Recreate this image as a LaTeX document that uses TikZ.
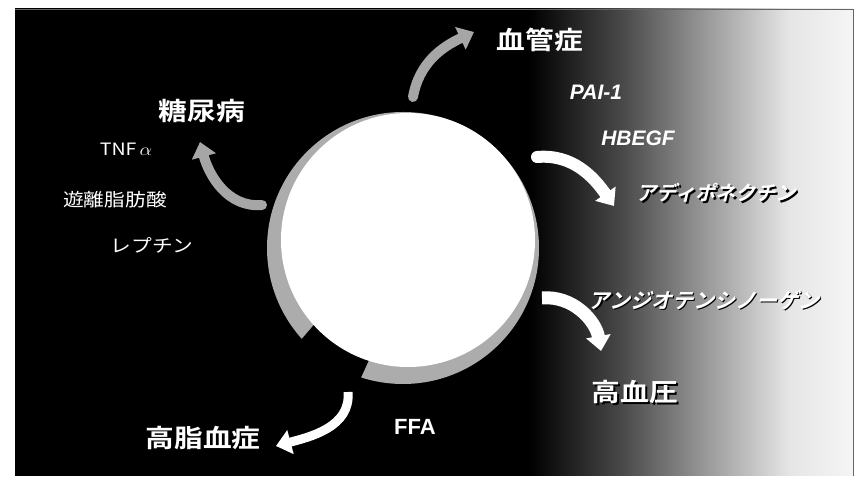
\documentclass[tikz,border=0pt]{standalone}
\usepackage{fontspec}
\setmainfont{Liberation Sans}
\newfontfamily\jp{Noto Sans CJK JP}[BoldFont={Noto Sans CJK JP Bold}]
\newfontfamily\jpsl{Noto Sans CJK JP Bold}[FakeSlant=0.25]
\usetikzlibrary{arrows.meta,calc}
% the path is fitted into 25bp..75bp of the shading
\pgfdeclarehorizontalshading{fadebg}{100bp}{color(0bp)=(black); color(55.7bp)=(black);
  color(61.1bp)=(black!72); color(65.9bp)=(black!42); color(71.2bp)=(black!10); color(75bp)=(black!4); color(100bp)=(black!4)}
\newcommand\shadowed[4]{%
  \node[#1,text=black] (#2-sh) at ($(#3)+(1.8,-1.8)$) {#4};
  \node[#1] (#2) at (#3) {#4};}

\begin{document}
\begin{tikzpicture}[x=1pt,y=1pt,
    disease/.style={text=white,font=\jp\bfseries\fontsize{25}{25}\selectfont,xscale=1.15,inner sep=0pt},
    factor/.style={text=white,font=\bfseries\itshape\fontsize{21}{21}\selectfont,inner sep=0pt},
    kana/.style={text=white,font=\jpsl\fontsize{20}{20}\selectfont,inner sep=0pt},
    fatarrow/.style={line width=10pt,-{Triangle[width=24pt,length=15pt]}}]
    \useasboundingbox (0,0) rectangle (859,478);
    \fill[white] (0,0) rectangle (859,478);
    \shade[shading=fadebg] (15,2) rectangle (853,469);
    \draw[black!60,thin] (853,2) -- (853,469) -- (15,469);

    % the disc and its rim
    \fill[gray!65] (403,230) circle[radius=136];
    \fill[black] (403,230) ++(222:137) arc[start angle=222,end angle=252,radius=137]
      -- ($(408,238)+(252:126)$) arc[start angle=252,end angle=222,radius=126] -- cycle;
    \node[circle,fill=white,minimum size=254pt,inner sep=0pt] (disc) at (408,238) {};

    % diseases
    \node[disease] (vasc) at (540,438) {血管症};
    \node[disease] (dm) at (202,367) {糖尿病};
    \node[disease] (hl) at (203,40) {高脂血症};
    \shadowed{disease}{ht}{635,86}{高血圧}

    % secreted factors
    \node[factor] (pai) at (596,386) {PAI-1};
    \node[factor] (hbegf) at (638,340) {HBEGF};
    \node[factor,font=\bfseries\fontsize{22}{22}\selectfont] (ffa) at (415,51) {FFA};
    \shadowed{kana}{adipo}{716,285}{アディポネクチン}
    \shadowed{kana,font=\jpsl\fontsize{21}{21}\selectfont}{agt}{704,178}{アンジオテンシノーゲン}
    \begin{scope}[every node/.style={text=white,font=\jp\fontsize{18}{18}\selectfont,xscale=1.15,inner sep=0pt}]
      \node (tnf) at (126,329) {\fontsize{17}{17}\selectfont TNF\,$\alpha$};
      \node (ffa-jp) at (115,278) {遊離脂肪酸};
      \node (lep) at (152,233) {レプチン};
    \end{scope}

    % arrows out of the disc
    \coordinate (vasc-from) at (413,381);
    \coordinate (vasc-to) at (474,446);
    \coordinate (dm-from) at (262,273);
    \coordinate (dm-to) at (200,336);
    \coordinate (adipo-from) at (537,321);
    \coordinate (adipo-to) at (614,272);
    \coordinate (ht-from) at (542,180);
    \coordinate (ht-to) at (601,127);
    \coordinate (hl-from) at (348,86);
    \coordinate (hl-to) at (276,32);
    \draw[fatarrow,gray!70,line cap=round] (vasc-from) to[out=80,in=205] (vasc-to);
    \draw[fatarrow,gray!70,line cap=round] (dm-from) to[out=185,in=-75] (dm-to);
    \draw[fatarrow,white,line width=12pt,line cap=round] (adipo-from) to[out=5,in=125] (adipo-to);
    \draw[fatarrow,white,line width=13pt] (ht-from) to[out=5,in=100] (ht-to);
    \draw[fatarrow,white,line width=9pt] (hl-from) to[out=-85,in=15] (hl-to);
\end{tikzpicture}
\end{document}
